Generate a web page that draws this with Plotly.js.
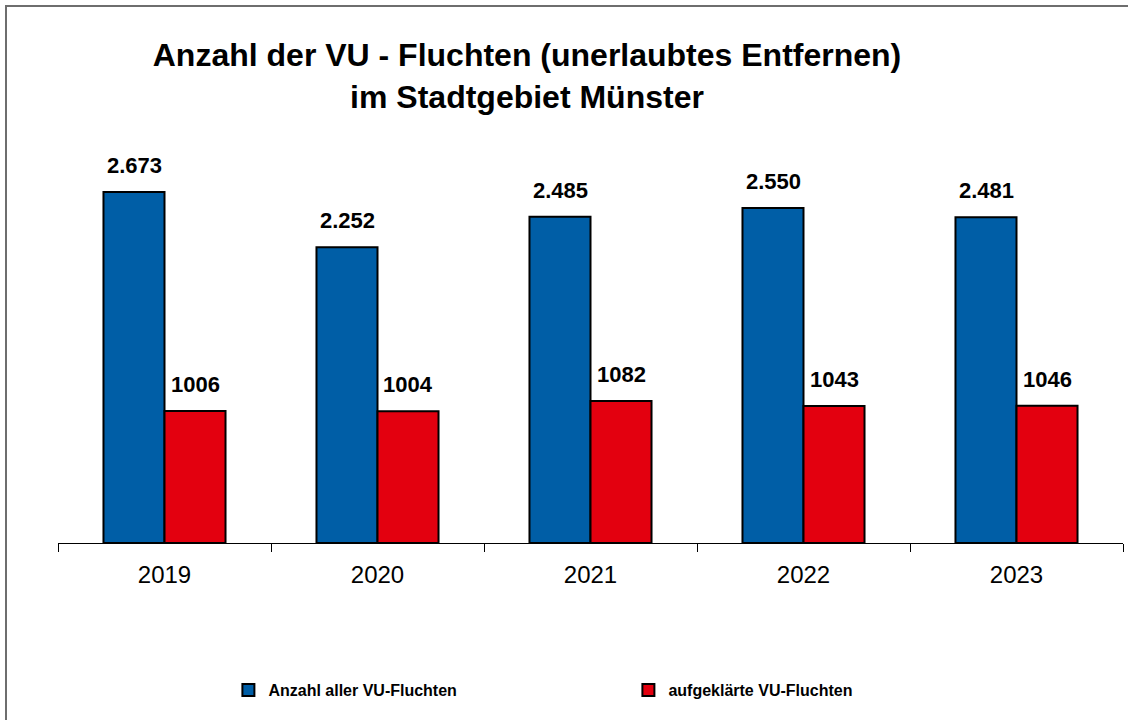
<!DOCTYPE html>
<html>
<head>
<meta charset="utf-8">
<script src="https://cdn.plot.ly/plotly-3.0.1.min.js"></script>
<style>
  html, body { margin: 0; padding: 0; background: #fff; }
  #wrap { position: relative; width: 1128px; height: 720px; overflow: hidden; }
  #chart { width: 1128px; height: 720px; }
  #frame { position: absolute; left: 5px; top: 5px; width: 1140px; height: 740px;
           border: 2px solid #6e6e6e; pointer-events: none; box-sizing: border-box; }
</style>
</head>
<body>
<div id="wrap">
  <div id="chart"></div>
  <div id="frame"></div>
</div>
<script>
const years = ['2019', '2020', '2021', '2022', '2023'];
const allFlights = [2673, 2252, 2485, 2550, 2481];
const solvedFlights = [1006, 1004, 1082, 1043, 1046];
const seriesNames = ['Anzahl aller VU-Fluchten', 'aufgeklärte VU-Fluchten'];
const titleText = 'Anzahl der VU - Fluchten (unerlaubtes Entfernen)<br>im Stadtgebiet Münster';

function deThousands(v) {
  return String(v).replace(/\B(?=(\d{3})+(?!\d))/g, '.');
}

const blue = '#005EA6';
const red = '#E3000F';
const FONT = 'Liberation Sans, Arial, sans-serif';

const traces = [
  {
    type: 'bar', name: seriesNames[0], x: years, y: allFlights,
    marker: { color: blue, line: { color: '#000', width: 2 } },
    hoverinfo: 'skip'
  },
  {
    type: 'bar', name: seriesNames[1], x: years, y: solvedFlights,
    marker: { color: red, line: { color: '#000', width: 2 } },
    hoverinfo: 'skip'
  }
];

const labelFont = { family: FONT, size: 22, color: '#000' };
const annotations = [];
years.forEach((yr, i) => {
  annotations.push({
    x: i, y: allFlights[i], xref: 'x', yref: 'y', xshift: -30.5, yshift: 12,
    yanchor: 'bottom', text: '<b>' + deThousands(allFlights[i]) + '</b>', showarrow: false, font: labelFont
  });
  annotations.push({
    x: i, y: solvedFlights[i], xref: 'x', yref: 'y', xshift: 30.5, yshift: 12,
    yanchor: 'bottom', text: '<b>' + solvedFlights[i] + '</b>', showarrow: false, font: labelFont
  });
});

const layout = {
  width: 1128, height: 720,
  paper_bgcolor: '#fff', plot_bgcolor: '#fff',
  margin: { l: 58, r: 5, t: 149, b: 177 },
  barmode: 'group', bargap: 0.427, bargroupgap: 0,
  title: {
    text: '<b>' + titleText + '</b>',
    xref: 'container', yref: 'container', x: 527 / 1128, y: 1 - 66 / 720,
    xanchor: 'center', yanchor: 'top',
    font: { family: FONT, size: 32, color: '#000' }
  },
  xaxis: {
    type: 'category', range: [-0.5, 4.5], autorange: false,
    showline: true, linecolor: '#000', linewidth: 1,
    ticks: 'outside', tickson: 'boundaries', ticklen: 8, tickcolor: '#000', tickwidth: 1,
    showgrid: false, zeroline: false, tickangle: 0, ticklabelstandoff: 10,
    tickfont: { family: FONT, size: 24, color: '#000' }
  },
  yaxis: {
    range: [0, 3000], autorange: false, visible: false, showgrid: false, zeroline: false
  },
  showlegend: true,
  legend: {
    orientation: 'h', x: 0.16, xanchor: 'left', y: -0.33, yanchor: 'top',
    entrywidth: 355, entrywidthmode: 'pixels',
    font: { family: FONT, size: 16, color: '#000', weight: 'bold' },
    itemclick: false, itemdoubleclick: false
  },
  annotations: annotations
};

Plotly.newPlot('chart', traces, layout, { displayModeBar: false, staticPlot: true });
</script>
</body>
</html>
